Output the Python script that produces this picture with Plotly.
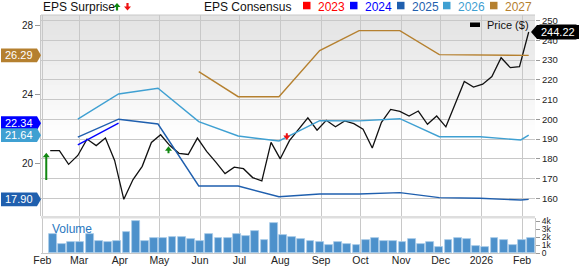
import plotly.graph_objects as go
import pandas as pd

# ---------------- data ----------------
price_dates = pd.date_range("2025-02-07", periods=53, freq="7D").strftime("%Y-%m-%d").tolist()
price = [184.2, 184.2, 177.2, 181.7, 190.0, 186.7, 190.5, 179.2, 159.5, 169.5,
         176.2, 188.3, 192.2, 186.7, 182.8, 182.2, 190.5, 183.8, 178.3, 172.5,
         175.8, 175.0, 170.5, 168.8, 188.3, 180.0, 189.2, 195.0, 200.8, 194.5,
         199.5, 196.2, 199.2, 197.8, 195.0, 185.5, 198.5, 205.0, 204.0, 201.7,
         204.2, 197.5, 201.7, 196.2, 207.5, 219.2, 216.3, 217.8, 221.7, 231.2,
         226.2, 226.7, 244.22]
volume_k = [2.38, 1.13, 1.38, 1.38, 2.38, 1.54, 1.33, 1.54, 2.67, 4.08,
            1.54, 1.83, 1.83, 2.00, 2.04, 1.75, 1.54, 2.42, 1.88, 1.88,
            2.42, 2.17, 2.79, 1.67, 3.79, 2.29, 2.00, 1.75, 1.54, 1.33,
            0.96, 1.33, 1.17, 1.04, 1.67, 1.83, 1.54, 1.54, 1.42, 1.79,
            1.13, 1.38, 0.75, 1.63, 1.88, 1.79, 0.83, 0.79, 1.88, 1.63,
            1.04, 1.67, 1.88]

cons_dates = ["2025-02-28", "2025-03-31", "2025-04-30", "2025-05-31", "2025-06-30",
              "2025-07-31", "2025-08-31", "2025-09-30", "2025-10-31", "2025-11-30",
              "2025-12-31", "2026-01-31", "2026-02-06"]
eps_2024 = [21.07, 22.34, None, None, None, None, None, None, None, None, None, None, None]
eps_2025 = [21.52, 22.57, 22.29, 18.68, 18.68, 18.05, 18.21, 18.21, 18.29, 18.00, 17.96, 17.86, 17.90]
eps_2026 = [22.57, 24.04, 24.37, 22.43, 21.59, 21.30, 22.48, 22.47, 22.60, 21.55, 21.55, 21.36, 21.64]
eps_2027 = [None, None, None, 25.34, 23.88, 23.88, 26.57, 27.73, 27.73, 26.33, 26.33, 26.33, 26.29]

series_names = ["2023", "2024", "2025", "2026", "2027"]
series_colors = ["#ff0000", "#0000ff", "#1f5fae", "#3fa0d2", "#b5802f"]

label_values = [26.29, 22.34, 21.64, 17.90]
label_colors = ["#b5802f", "#0000ff", "#3fa0d2", "#1f5fae"]

surprise_dates = ["2025-02-04", "2025-05-08", "2025-08-06"]
surprise_tail = [19.03, 20.58, 21.75]
surprise_head = [20.62, 21.00, 21.36]
surprise_colors = ["#118811", "#118811", "#ee1111"]

month_ticks = ["2025-02-01", "2025-03-01", "2025-04-01", "2025-05-01", "2025-06-01",
               "2025-07-01", "2025-08-01", "2025-09-01", "2025-10-01", "2025-11-01",
               "2025-12-01", "2026-01-01", "2026-02-01"]
month_labels = ["Feb", "Mar", "Apr", "May", "Jun", "Jul", "Aug", "Sep", "Oct", "Nov",
                "Dec", "2026", "Feb"]
price_ticks = [160, 170, 180, 190, 200, 210, 220, 230, 240, 250]
eps_ticks = [20, 24, 28]
vol_ticks = [0, 1, 2, 3, 4]
vol_labels = ["0", "1k", "2k", "3k", "4k"]

# ---------------- layout constants ----------------
W, H = 579, 266
ML, MR, MT, MB = 41, 44, 15, 13
PW = W - ML - MR
PH = H - MT - MB
FONT = "Arial, Liberation Sans, sans-serif"
GRID = "#c8c8c8"

def px_x(x):
    return (x - ML) / PW

def px_y(y):
    return (H - MB - y) / PH

price_dom = [px_y(216), 1.0]
vol_dom = [0.0, px_y(218)]
price_range = [151.04, 252.84]
eps_range = [16.93, 28.64]
eps_px = PH * (price_dom[1] - price_dom[0]) / (eps_range[1] - eps_range[0])

def eps_to_paper(v):
    return price_dom[0] + (v - eps_range[0]) / (eps_range[1] - eps_range[0]) * (price_dom[1] - price_dom[0])

def price_to_paper(v):
    return price_dom[0] + (v - price_range[0]) / (price_range[1] - price_range[0]) * (price_dom[1] - price_dom[0])

def arrow_path(length, hw=3.5, hh=4.5, sw=1.0):
    """Arrow with tip at (0,0); length > 0 points up, < 0 points down (pixels)."""
    s = 1 if length >= 0 else -1
    L = length
    pts = [(0, 0), (hw, -s * hh), (sw, -s * hh), (sw, -L), (-sw, -L),
           (-sw, -s * hh), (-hw, -s * hh)]
    return "M " + " L ".join(f"{x},{y}" for x, y in pts) + " Z"

fig = go.Figure()

line_series = [("2024", eps_2024, series_colors[1]), ("2025", eps_2025, series_colors[2]),
               ("2026", eps_2026, series_colors[3]), ("2027", eps_2027, series_colors[4])]
for name, vals, col in line_series:
    fig.add_trace(go.Scatter(x=cons_dates, y=vals, mode="lines", name=name,
                             line=dict(color=col, width=1.4), yaxis="y2",
                             connectgaps=False, showlegend=False))

fig.add_trace(go.Scatter(x=price_dates, y=price, mode="lines", name="Price ($)",
                         line=dict(color="#111111", width=1.3), yaxis="y", showlegend=False))

day_ms = 86400000
fig.add_trace(go.Bar(x=price_dates, y=volume_k, yaxis="y3", name="Volume",
                     width=6 * day_ms, offset=-1 * day_ms,
                     marker=dict(color="#4d91cb", line=dict(color="#a8cbe9", width=0.8)),
                     showlegend=False))

shapes = []
# gradient background in price panel
n_bands = 24
top_px, fade_px = 15, 135
for i in range(n_bands):
    y0 = top_px + (fade_px - top_px) * i / n_bands
    y1 = top_px + (fade_px - top_px) * (i + 1) / n_bands
    v = int(round(226 + (255 - 226) * (i + 0.5) / n_bands))
    shapes.append(dict(type="rect", xref="paper", yref="paper", x0=0, x1=1,
                       y0=px_y(y1), y1=px_y(y0), fillcolor=f"rgb({v},{v},{v})",
                       line=dict(width=0), layer="below"))
# top border
shapes.append(dict(type="line", xref="paper", yref="paper", x0=0, x1=1, y0=1, y1=1,
                   line=dict(color=GRID, width=1)))
# separator band between panels
shapes.append(dict(type="rect", xref="paper", yref="paper", x0=0, x1=1,
                   y0=px_y(218.5), y1=px_y(216), fillcolor="#dedede",
                   line=dict(width=0)))

annotations = []

# left labels (pentagon boxes), in paper coordinates
bx0, bx1, btip = px_x(1), px_x(37), px_x(41)
half = 6.8 / PH
for val, col in zip(label_values, label_colors):
    yc = eps_to_paper(val)
    path = (f"M {bx0},{yc - half} L {bx1},{yc - half} L {btip},{yc} "
            f"L {bx1},{yc + half} L {bx0},{yc + half} Z")
    shapes.append(dict(type="path", xref="paper", yref="paper", path=path,
                       fillcolor=col, line=dict(width=0), layer="above"))
    annotations.append(dict(xref="paper", yref="paper", x=px_x(19), y=yc,
                            xanchor="center", yanchor="middle",
                            text=f"{val:.2f}", showarrow=False,
                            font=dict(color="white", size=11, family=FONT)))

# right last price label
last_price = price[-1]
yc = price_to_paper(last_price)
phalf = 7 / PH
rx0, rx1, rtip = px_x(537), px_x(579), px_x(531)
path = (f"M {rtip},{yc} L {rx0},{yc + phalf} L {rx1},{yc + phalf} "
        f"L {rx1},{yc - phalf} L {rx0},{yc - phalf} Z")
shapes.append(dict(type="path", xref="paper", yref="paper", path=path,
                   fillcolor="#000000", line=dict(width=0), layer="above"))
annotations.append(dict(xref="paper", yref="paper", x=px_x(558), y=yc,
                        xanchor="center", yanchor="middle",
                        text=f"{last_price:.2f}", showarrow=False, bgcolor="#000000",
                        borderpad=1, font=dict(color="white", size=11, family=FONT)))

# EPS surprise arrows on chart (pixel-sized paths anchored at the data point)
for d, t, h, c in zip(surprise_dates, surprise_tail, surprise_head, surprise_colors):
    length = (h - t) * eps_px
    shapes.append(dict(type="path", xref="x", yref="y2", xsizemode="pixel",
                       ysizemode="pixel", xanchor=d, yanchor=h,
                       path=arrow_path(length), fillcolor=c, line=dict(width=0),
                       layer="above"))

# top legend
legend_y = px_y(7)
annotations.append(dict(xref="paper", yref="paper", x=px_x(41), y=legend_y,
                        xanchor="left", yanchor="middle", text="EPS Surprise",
                        showarrow=False, font=dict(size=12, color="#111", family=FONT)))
shapes.append(dict(type="path", xref="paper", yref="paper", xsizemode="pixel",
                   ysizemode="pixel", xanchor=px_x(117), yanchor=px_y(3),
                   path=arrow_path(7.5, hw=3.5, hh=4, sw=1.1), fillcolor="#118811",
                   line=dict(width=0)))
shapes.append(dict(type="path", xref="paper", yref="paper", xsizemode="pixel",
                   ysizemode="pixel", xanchor=px_x(127.5), yanchor=px_y(10.5),
                   path=arrow_path(-7.5, hw=3.5, hh=4, sw=1.1), fillcolor="#ee1111",
                   line=dict(width=0)))
annotations.append(dict(xref="paper", yref="paper", x=px_x(202), y=legend_y,
                        xanchor="left", yanchor="middle", text="EPS Consensus",
                        showarrow=False, font=dict(size=12, color="#111", family=FONT)))
sq_left = [303, 350, 397, 443, 490]
for name, col, sx in zip(series_names, series_colors, sq_left):
    shapes.append(dict(type="rect", xref="paper", yref="paper",
                       x0=px_x(sx), x1=px_x(sx + 7.5), y0=px_y(9.3), y1=px_y(1.8),
                       fillcolor=col, line=dict(width=0)))
    annotations.append(dict(xref="paper", yref="paper", x=px_x(sx + 13), y=legend_y,
                            xanchor="left", yanchor="middle", text=name, showarrow=False,
                            font=dict(size=12, color=col, family=FONT)))

# Price legend inside plot
shapes.append(dict(type="rect", xref="paper", yref="paper",
                   x0=px_x(470), x1=px_x(480), y0=px_y(27), y1=px_y(22.5),
                   fillcolor="#000000", line=dict(width=0)))
annotations.append(dict(xref="paper", yref="paper", x=px_x(485), y=px_y(25),
                        xanchor="left", yanchor="middle", text="Price ($)",
                        showarrow=False, font=dict(size=11, color="#111", family=FONT)))

# Volume label
annotations.append(dict(xref="paper", yref="paper", x=px_x(50), y=px_y(229),
                        xanchor="left", yanchor="middle", text="Volume",
                        showarrow=False, font=dict(size=12, color="#2a78c0", family=FONT)))

fig.update_layout(
    width=W, height=H,
    margin=dict(l=ML, r=MR, t=MT, b=MB, pad=0, autoexpand=False),
    paper_bgcolor="white", plot_bgcolor="white",
    font=dict(family=FONT, size=10, color="#222"),
    showlegend=False,
    bargap=0,
    xaxis=dict(type="date", range=["2025-01-31", "2026-02-10 19:00"],
               tickvals=month_ticks, ticktext=month_labels, showgrid=True,
               gridcolor=GRID, gridwidth=1, anchor="y3", showline=True,
               linecolor=GRID, ticks="", zeroline=False, automargin=False,
               ticklabelstandoff=-3,
               tickfont=dict(size=10.5, color="#222")),
    yaxis=dict(domain=price_dom, side="right", anchor="x", range=price_range,
               tickvals=price_ticks, showgrid=True, gridcolor=GRID, gridwidth=1,
               ticks="outside", ticklen=4, tickcolor="#999", zeroline=False,
               automargin=False, tickfont=dict(size=9.5, color="#222")),
    yaxis2=dict(overlaying="y", side="left", anchor="x", range=eps_range,
                tickvals=eps_ticks, showgrid=False, ticks="outside", ticklen=5,
                tickcolor="#999", showline=True, linecolor=GRID, zeroline=False,
                automargin=False, tickfont=dict(size=10, color="#222")),
    yaxis3=dict(domain=vol_dom, side="right", anchor="x", range=[0, 4.4],
                tickvals=vol_ticks, ticktext=vol_labels, showgrid=False,
                ticks="outside", ticklen=4, tickcolor="#999", zeroline=False,
                showline=True, linecolor=GRID, automargin=False,
                tickfont=dict(size=8.5, color="#222")),
    shapes=shapes,
    annotations=annotations,
)

fig.write_html("out.html")
